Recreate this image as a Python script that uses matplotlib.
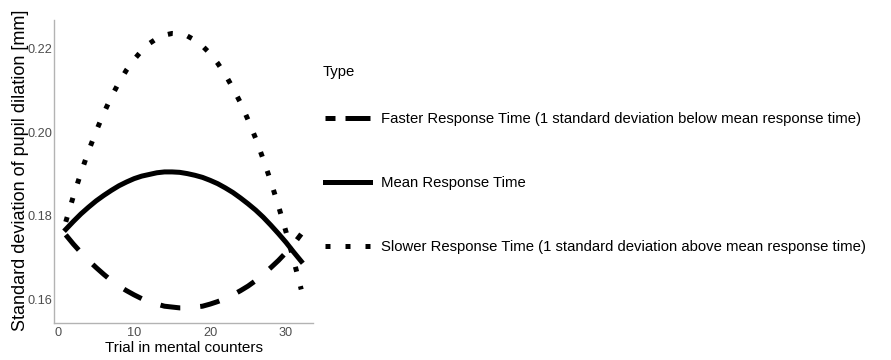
import numpy as np
import matplotlib
matplotlib.use("Agg")
import matplotlib.pyplot as plt

plt.rcParams["font.family"] = ["Liberation Sans", "DejaVu Sans"]

# trial number 1..32
trial = list(range(1, 33))

faster = [0.1755, 0.1733, 0.1713, 0.1694, 0.1677, 0.1661, 0.1646, 0.1633,
          0.1622, 0.1612, 0.1603, 0.1596, 0.1590, 0.1585, 0.1583, 0.1581,
          0.1581, 0.1583, 0.1585, 0.1590, 0.1596, 0.1603, 0.1612, 0.1622,
          0.1633, 0.1646, 0.1661, 0.1677, 0.1694, 0.1713, 0.1733, 0.1757]

mean_rt = [0.1768, 0.1787, 0.1805, 0.1821, 0.1836, 0.1849, 0.1861, 0.1872,
           0.1881, 0.1889, 0.1895, 0.1899, 0.1903, 0.1905, 0.1905, 0.1904,
           0.1901, 0.1897, 0.1892, 0.1885, 0.1877, 0.1867, 0.1856, 0.1843,
           0.1829, 0.1814, 0.1797, 0.1778, 0.1758, 0.1737, 0.1714, 0.1692]

slower = [0.1786, 0.1847, 0.1903, 0.1955, 0.2002, 0.2045, 0.2084, 0.2118,
          0.2148, 0.2173, 0.2194, 0.2211, 0.2223, 0.2231, 0.2235, 0.2234,
          0.2229, 0.2219, 0.2205, 0.2187, 0.2164, 0.2137, 0.2105, 0.2070,
          0.2029, 0.1985, 0.1935, 0.1882, 0.1824, 0.1762, 0.1695, 0.1625]

labels = ["Faster Response Time (1 standard deviation below mean response time)",
          "Mean Response Time",
          "Slower Response Time (1 standard deviation above mean response time)"]

xticks = [0, 10, 20, 30]
yticks = [0.16, 0.18, 0.20, 0.22]

fig = plt.figure(figsize=(8.91, 3.6), dpi=100)
ax = fig.add_axes([0.0606, 0.1028, 0.2907, 0.8416])

lw = 3.6
ax.plot(trial, faster, color="black", lw=lw, linestyle=(0, (4, 4)), label=labels[0])
ax.plot(trial, mean_rt, color="black", lw=lw, linestyle="-", label=labels[1])
ax.plot(trial, slower, color="black", lw=lw, linestyle=(0, (1, 3)), label=labels[2])

ax.set_xlim(-0.55, 33.55)
ax.set_ylim(0.1545, 0.2267)
ax.set_xticks(xticks)
ax.set_yticks(yticks)
ax.set_yticklabels([f"{v:.2f}" for v in yticks])
ax.tick_params(length=0, labelsize=9.2, labelcolor="#4D4D4D", pad=3)
ax.tick_params(axis="y", pad=1.5)

for s in ["top", "right"]:
    ax.spines[s].set_visible(False)
for s in ["left", "bottom"]:
    ax.spines[s].set_color("#B3B3B3")
    ax.spines[s].set_linewidth(1.0)

ax.set_xlabel("Trial in mental counters", fontsize=11, labelpad=1)
ax.set_ylabel("Standard deviation of pupil dilation [mm]", fontsize=13)
ax.yaxis.set_label_coords(-0.097, 0.505)

leg = ax.legend(loc="upper left", bbox_to_anchor=(325 / 891, 1 - 112 / 360),
                bbox_transform=fig.transFigure, frameon=False,
                fontsize=10.7, handlelength=3.0,
                handletextpad=0.8, labelspacing=3.37, borderaxespad=0,
                borderpad=0)
leg.get_lines()[0].set_linestyle((0, (2, 2, 5, 2)))

fig.text(323 / 891, 1 - 72 / 360, "Type", fontsize=10.7, ha="left", va="center")

fig.savefig("out.png", dpi=100)
